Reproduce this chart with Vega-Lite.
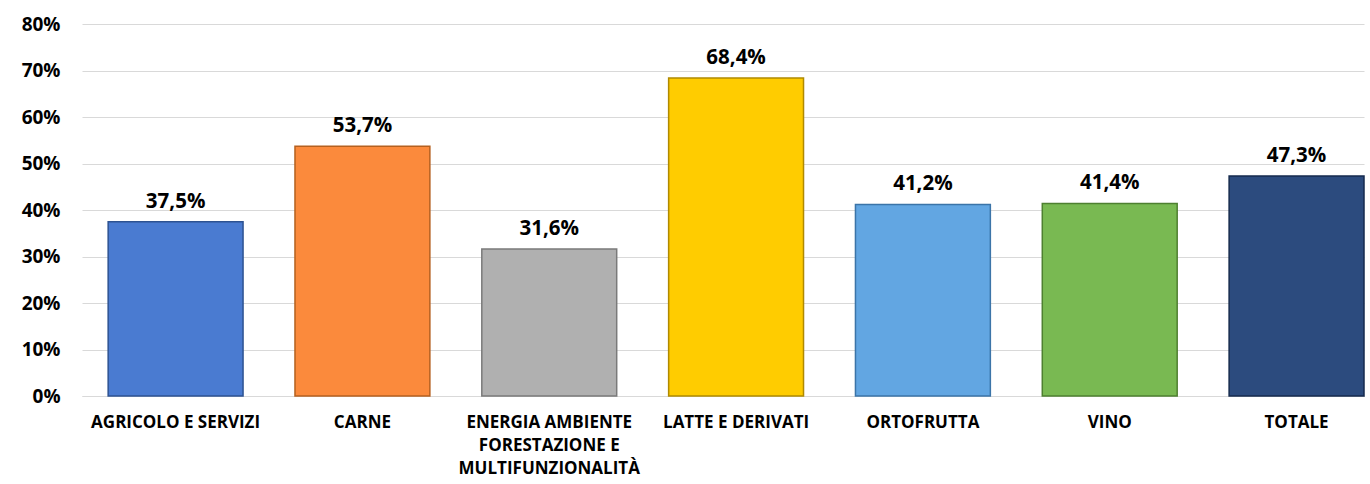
{
  "$schema": "https://vega.github.io/schema/vega-lite/v6.json",
  "width": 1282,
  "height": 372,
  "autosize": "none",
  "padding": {"left": 82, "top": 24, "right": 6, "bottom": 88},
  "background": "white",
  "config": {
    "view": {"stroke": null},
    "locale": {"number": {"decimal": ",", "thousands": ".", "grouping": [3], "currency": ["€", ""]}},
    "font": "Open Sans"
  },
  "data": {
    "values": [
      {"settore": "AGRICOLO E SERVIZI", "quota": 0.375},
      {"settore": "CARNE", "quota": 0.537},
      {"settore": "ENERGIA AMBIENTE|FORESTAZIONE E|MULTIFUNZIONALITÀ", "quota": 0.316},
      {"settore": "LATTE E DERIVATI", "quota": 0.684},
      {"settore": "ORTOFRUTTA", "quota": 0.412},
      {"settore": "VINO", "quota": 0.414},
      {"settore": "TOTALE", "quota": 0.473}
    ]
  },
  "encoding": {
    "x": {
      "field": "settore",
      "type": "nominal",
      "sort": null,
      "scale": {"paddingInner": 0.278, "paddingOuter": 0.07, "align": 1},
      "axis": {
        "title": null,
        "labelAngle": 0,
        "labelExpr": "split(datum.label, '|')",
        "labelFont": "Open Sans",
        "labelFontWeight": "bold",
        "labelFontSize": 17,
        "labelColor": "#000000",
        "labelLineHeight": 23,
        "labelPadding": 18,
        "labelBaseline": "top",
        "ticks": false,
        "domainColor": "#d9d9d9",
        "domainWidth": 1,
        "labelLimit": 300
      }
    },
    "y": {
      "field": "quota",
      "type": "quantitative",
      "scale": {"domain": [0, 0.8], "nice": false},
      "axis": {
        "title": null,
        "format": ".0%",
        "values": [0, 0.1, 0.2, 0.3, 0.4, 0.5, 0.6, 0.7, 0.8],
        "labelOverlap": false,
        "labelFont": "Open Sans",
        "labelFontWeight": "bold",
        "labelFontSize": 19,
        "labelColor": "#000000",
        "labelPadding": 22,
        "ticks": false,
        "domain": false,
        "gridColor": "#d9d9d9",
        "gridWidth": 1
      }
    }
  },
  "layer": [
    {
      "mark": {"type": "bar", "strokeWidth": 1.5},
      "encoding": {
        "fill": {
          "field": "settore",
          "type": "nominal",
          "sort": null,
          "legend": null,
          "scale": {"range": ["#4a7bd1", "#fb8a3c", "#b0b0b0", "#ffcc00", "#62a6e2", "#79b952", "#2c4b7e"]}
        },
        "stroke": {
          "field": "settore",
          "type": "nominal",
          "sort": null,
          "legend": null,
          "scale": {"range": ["#2d5291", "#b5601f", "#7a7a7a", "#b08a00", "#3b74a8", "#4e8030", "#152a4d"]}
        }
      }
    },
    {
      "mark": {"type": "text", "baseline": "bottom", "dy": -10, "fontSize": 20.5, "fontWeight": "bold", "font": "Open Sans", "color": "#000000"},
      "encoding": {
        "text": {"field": "quota", "type": "quantitative", "format": ".1%"}
      }
    }
  ]
}
